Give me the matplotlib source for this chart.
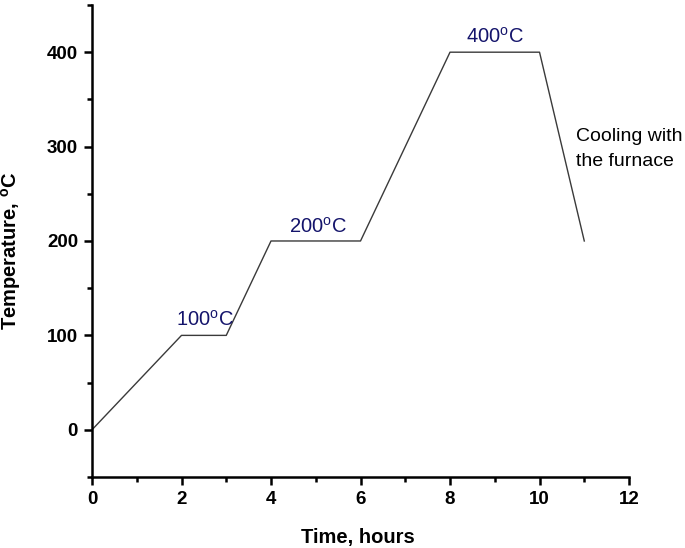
import numpy as np
import matplotlib.pyplot as plt
from matplotlib.ticker import MultipleLocator

plt.rcParams['font.family'] = 'Liberation Sans'
plt.rcParams['mathtext.fontset'] = 'custom'
plt.rcParams['mathtext.rm'] = 'Liberation Sans'
plt.rcParams['mathtext.bf'] = 'Liberation Sans:bold'

# Heating schedule
time_h = [0, 2, 3, 4, 6, 8, 10, 11]
temp_c = [0, 100, 100, 200, 200, 400, 400, 200]

# Hold labels (left edge / baseline in data units)
hold_labels = ['100$^{\\mathrm{o}}$C', '200$^{\\mathrm{o}}$C', '400$^{\\mathrm{o}}$C']
hold_x = [1.88, 4.40, 8.36]
hold_y = [110, 209, 410]

cooling_lines = ['Cooling with', 'the furnace']
cooling_x = 10.82
cooling_y = [306, 279.5]

fig = plt.figure(figsize=(6.85, 5.48), dpi=100)
ax = fig.add_axes([0.1343, 0.1296, 0.7840, 0.8613])

ax.plot(time_h, temp_c, color='#3a3a3a', linewidth=1.0)

for lab, x, y in zip(hold_labels, hold_x, hold_y):
    ax.text(x, y, lab, color='#14146b', fontsize=14.5, ha='left', va='baseline')

for line, y in zip(cooling_lines, cooling_y):
    ax.text(cooling_x, y, line, fontsize=14, ha='left', va='baseline')

ax.set_xlim(0, 12)
ax.set_ylim(-50, 450)
ax.xaxis.set_major_locator(MultipleLocator(2))
ax.xaxis.set_minor_locator(MultipleLocator(1))
ax.yaxis.set_major_locator(MultipleLocator(100))
ax.yaxis.set_minor_locator(MultipleLocator(50))

ax.spines['top'].set_visible(False)
ax.spines['right'].set_visible(False)
for s in ['left', 'bottom']:
    ax.spines[s].set_linewidth(1.8)

ax.tick_params(which='major', direction='out', length=6, width=1.8, labelsize=13.5)
ax.tick_params(axis='y', which='major', pad=4)
ax.tick_params(axis='x', which='major', pad=4)
ax.tick_params(which='minor', direction='out', length=3.5, width=1.8)
for t in ax.get_xticklabels() + ax.get_yticklabels():
    t.set_fontweight('bold')

ax.set_xlabel('Time, hours', fontsize=14.5, fontweight='bold')
ax.set_ylabel('Temperature, $^{\\mathbf{o}}$C', fontsize=14.5, fontweight='bold')
ax.xaxis.set_label_coords(0.495, -0.108)
ax.yaxis.set_label_coords(-0.128, 0.479)

fig.savefig('out.png', dpi=100)
